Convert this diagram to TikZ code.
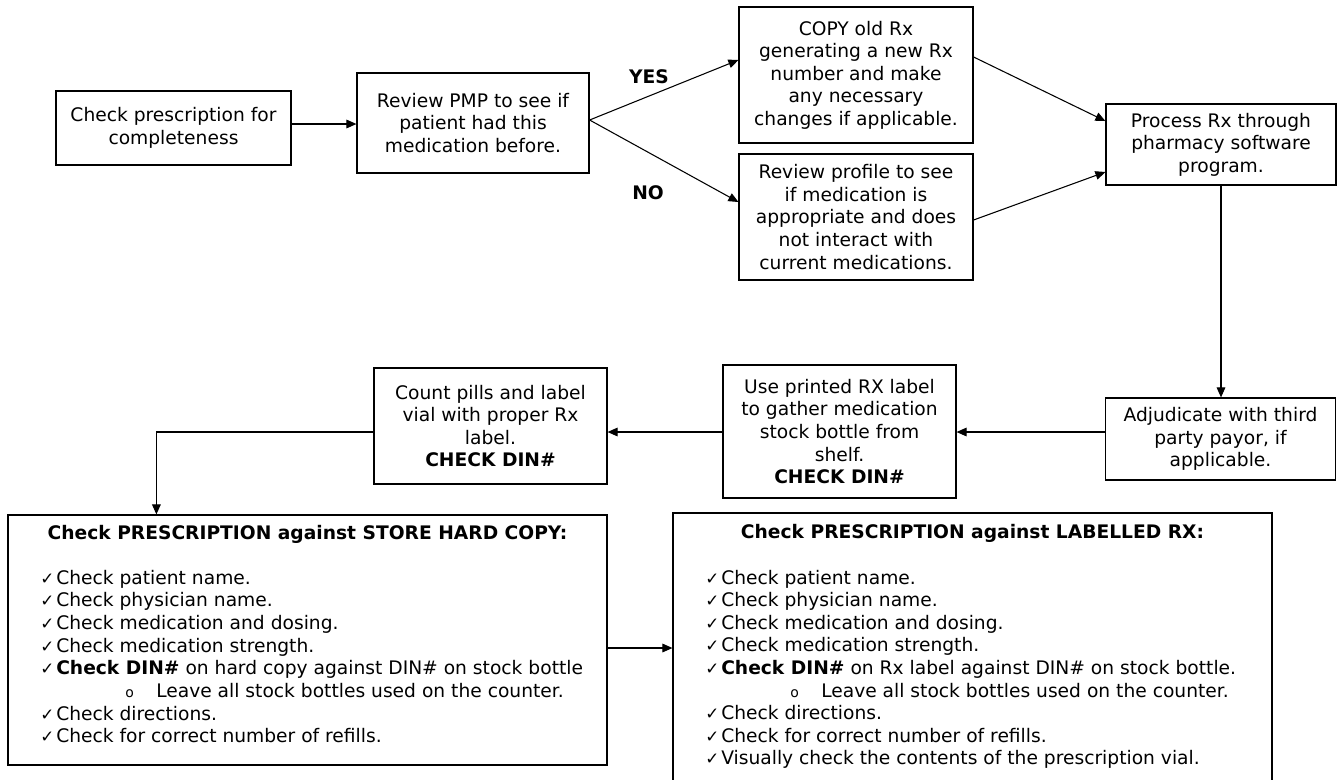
\documentclass[tikz,border=0pt]{standalone}
\usepackage{fontspec}
\setmainfont{DejaVu Sans}
\usetikzlibrary{arrows.meta,calc}
\newcommand\myfs{\fontsize{14}{16.9}\selectfont}
\newcommand\chk{\makebox[12pt][l]{\fontsize{12.5}{12.5}\selectfont ✓}}
\newcommand\smallo{\fontsize{10.5}{10.5}\selectfont o}
\begin{document}
\begin{tikzpicture}[x=0.75pt,y=-0.75pt,
  box/.style={draw, line width=0.9pt, align=center, inner sep=0pt, font=\myfs},
  arr/.style={line width=0.8pt, -{Triangle[length=7.5pt,width=6.5pt]}},
  lst/.style={anchor=base west, inner sep=0pt, font=\myfs},
  ttl/.style={anchor=base, inner sep=0pt, font=\myfs\bfseries},
  yn/.style={inner sep=0pt, font=\myfs\bfseries}]
\useasboundingbox (0,0) rectangle (1338,779);
\fill[white] (0,0) rectangle (1338,779);

% flowchart boxes
\node[box, minimum width=176.25pt, minimum height=55.5pt] (A) at (173.5,128) {Check prescription for\\completeness};
\node[box, minimum width=174pt, minimum height=75pt] (B) at (473,123) {Review PMP to see if\\patient had this\\medication before.};
\node[box, minimum width=175.5pt, minimum height=102pt] (C) at (856,75) {COPY old Rx\\generating a new Rx\\number and make\\any necessary\\changes if applicable.};
\node[box, minimum width=175.5pt, minimum height=94.5pt] (D) at (856,217) {Review profile to see\\if medication is\\appropriate and does\\not interact with\\current medications.};
\node[box, minimum width=172.5pt, minimum height=60.75pt] (E) at (1221,144.5) {Process Rx through\\pharmacy software\\program.};
\node[box, minimum width=172.5pt, minimum height=61.5pt] (F) at (1220.5,439) {Adjudicate with third\\party payor, if\\applicable.};
\node[box, minimum width=174.75pt, minimum height=99.75pt] (G) at (839.5,431.5) {Use printed RX label\\to gather medication\\stock bottle from\\shelf.\\\textbf{CHECK DIN\#}};
\node[box, minimum width=174.75pt, minimum height=87pt] (H) at (490.5,426) {Count pills and label\\vial with proper Rx\\label.\\\textbf{CHECK DIN\#}};

% big boxes
\node[box, minimum width=449.25pt, minimum height=187.5pt] (L) at (307.5,640) {};
\node[box, minimum width=449.25pt, minimum height=204pt] (R) at (972.5,649) {};

% labels
\node[yn] (yes) at (649,77) {YES};
\node[yn] (no) at (648,193) {NO};

% helper coordinates
\coordinate (r1) at (0,124);
\coordinate (r2) at (0,432);
\coordinate (r3) at (0,648);
\path (L.north west) ++(149,0) coordinate (Ltop);

% connectors
\draw[arr] (A.east |- r1) -- (B.west |- r1);
\draw[arr] ([yshift=2.25pt]B.east) -- ([yshift=11.25pt]C.west);
\draw[arr] ([yshift=2.25pt]B.east) -- ([yshift=11.25pt]D.west);
\draw[arr] ([yshift=13.5pt]C.east) -- ([yshift=17.6pt]E.west);
\draw[arr] ([yshift=-2.25pt]D.east) -- ([yshift=-20.6pt]E.west);
\draw[arr] (E.south) -- (E.south |- F.north);
\draw[arr] (F.west |- r2) -- (G.east |- r2);
\draw[arr] (G.west |- r2) -- (H.east |- r2);
\draw[arr] (H.west |- r2) -| (Ltop);
\draw[arr] (L.east |- r3) -- (R.west |- r3);

% left list
\node[ttl] (Lt) at (307.5,539) {Check PRESCRIPTION against STORE HARD COPY:};
\node[lst] (L1) at (40,584) {\chk Check patient name.};
\node[lst] (L2) at (40,606.7) {\chk Check physician name.};
\node[lst] (L3) at (40,629.4) {\chk Check medication and dosing.};
\node[lst] (L4) at (40,652.1) {\chk Check medication strength.};
\node[lst] (L5) at (40,674.8) {\chk \textbf{Check DIN\#} on hard copy against DIN\# on stock bottle};
\node[lst] (L6o) at (125,697.5) {\smallo};
\node[lst] (L6) at (156,697.5) {Leave all stock bottles used on the counter.};
\node[lst] (L7) at (40,720.2) {\chk Check directions.};
\node[lst] (L8) at (40,742.9) {\chk Check for correct number of refills.};

% right list
\node[ttl] (Rt) at (972.5,538) {Check PRESCRIPTION against LABELLED RX:};
\node[lst] (R1) at (705,584) {\chk Check patient name.};
\node[lst] (R2) at (705,606.6) {\chk Check physician name.};
\node[lst] (R3) at (705,629.2) {\chk Check medication and dosing.};
\node[lst] (R4) at (705,651.8) {\chk Check medication strength.};
\node[lst] (R5) at (705,674.4) {\chk \textbf{Check DIN\#} on Rx label against DIN\# on stock bottle.};
\node[lst] (R6o) at (790,697) {\smallo};
\node[lst] (R6) at (821,697) {Leave all stock bottles used on the counter.};
\node[lst] (R7) at (705,719.6) {\chk Check directions.};
\node[lst] (R8) at (705,742.2) {\chk Check for correct number of refills.};
\node[lst] (R9) at (705,764.8) {\chk Visually check the contents of the prescription vial.};
\end{tikzpicture}
\end{document}
